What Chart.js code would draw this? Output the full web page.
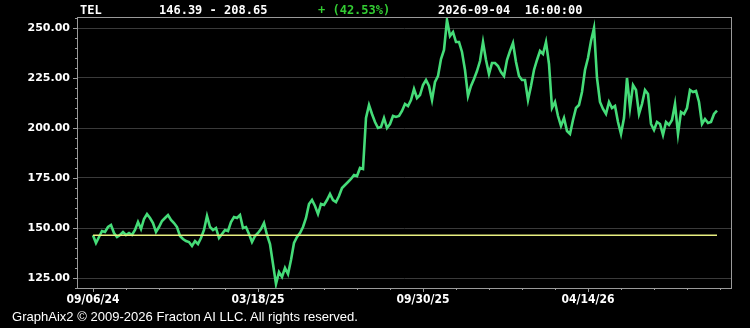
<!DOCTYPE html>
<html><head><meta charset="utf-8">
<script src="https://cdn.jsdelivr.net/npm/chart.js@4"></script>
<style>
html,body{margin:0;padding:0;background:#000;width:750px;height:328px;overflow:hidden}
#wrap{position:relative;width:750px;height:328px}
canvas{position:absolute;left:0;top:0}
.hdr{position:absolute;top:3px;font:bold 12px 'DejaVu Sans Mono',monospace;color:#fff;white-space:pre;line-height:14px}
#foot{position:absolute;left:12px;top:309px;font:13px 'Liberation Sans',Arial,sans-serif;color:#fff;white-space:pre;transform-origin:0 0;line-height:16px}
</style></head><body>
<div id="wrap">
<canvas id="c" width="750" height="328"></canvas>
<div class="hdr" id="hSym" style="left:80px"></div>
<div class="hdr" id="hRange" style="left:159px"></div>
<div class="hdr" id="hPct" style="left:318px;color:#33cc33"></div>
<div class="hdr" id="hDate" style="left:438px"></div>
<div id="foot">GraphAix2 © 2009-2026 Fracton AI LLC. All rights reserved.</div>
</div>
<script>
const symbol = "TEL";
const lastStamp = "2026-09-04  16:00:00";
const prices = [
146.39,142.5,145.5,148.5,148,150.5,151.5,147.5,145.5,146.5,
148,146.5,147.5,146.5,149,153,149.5,154.5,157,155,
152.5,148,150.5,153.5,155,156.5,154,152.5,150.5,146,
144.5,143.5,143,141,143.5,142,145,149,156,150.5,
149,150,145,147,149,148.5,153,155.5,155,156.5,
150,150.5,147,143,146,147.5,149.5,152.5,146.5,142,
132,122,128,125.5,130,127,134,142.5,145.5,147.5,
150.5,155,162,164,161,157,162,161.5,164,167,
164,163,166,170,171.5,173,174.5,176.5,176,180,
179.5,205,211.5,207,203,200,200.5,205,200,202,
206,205.5,206,208.5,212,211,214,219.5,215,216.5,
221.5,224,221,214,223,226,234.5,239,254,246,
248,243,243,238,229,216,221,224.5,228.5,233.5,
243,234,227,232.5,232.5,231,228,226,234,238.5,
242.5,233,226,224,224,214,221,229,234,238.5,
237,243,232,210,213,206,201,205,198.5,197,
204,210,211.5,218,229,235,243.5,250,225,213,
209.5,207,213,210,211,203,197,205,225,210,
221.5,219,207,212,219,217,202,199,203,202,
196.5,203,201.5,204,212,197,208,207,210,219,
218,218.5,213,202,204.5,202.5,203,207,208.65
];
const xLabels = ["09/06/24","03/18/25","09/30/25","04/14/26"];
const xLabelIdx = [0,55,110,165];
const xMinorStep = 11;
const yMajor = [125,150,175,200,225,250];
const yMinorStep = 5;
const yMin = 120, yMax = 255.5;

const first = prices[0], last = prices[prices.length-1];
const pct = (last-first)/first*100;
document.getElementById('hSym').textContent = symbol;
document.getElementById('hRange').textContent = first.toFixed(2) + " - " + last.toFixed(2);
document.getElementById('hPct').textContent = (pct>=0?"+":"-") + " (" + Math.abs(pct).toFixed(2) + "%)";
document.getElementById('hDate').textContent = lastStamp;

const xTicks = [];
for (let v = xLabelIdx[0]; v <= prices.length; v += xMinorStep) xTicks.push(v);
const yTicks = [];
for (let v = yMin; v <= yMax; v += yMinorStep) yTicks.push(v);

const tickPlugin = {
  id:'ticks',
  afterDraw(chart){
    const ctx = chart.ctx, a = chart.chartArea;
    const xs = chart.scales.x, ys = chart.scales.y;
    ctx.save();
    ctx.strokeStyle = '#9a9a9a';
    ctx.lineWidth = 1;
    ctx.strokeRect(a.left+0.5, a.top+0.5, a.right-a.left-1, a.bottom-a.top);
    ctx.beginPath();
    xTicks.forEach(v=>{
      const px = Math.round(xs.getPixelForValue(v))+0.5;
      const len = xLabelIdx.includes(v) ? 4 : 2;
      ctx.moveTo(px, a.bottom); ctx.lineTo(px, a.bottom+len);
    });
    yTicks.forEach(v=>{
      const py = Math.round(ys.getPixelForValue(v))+0.5;
      const len = yMajor.includes(v) ? 4 : 2;
      ctx.moveTo(a.left, py); ctx.lineTo(a.left-len, py);
    });
    ctx.stroke();
    ctx.restore();
  }
};

new Chart(document.getElementById('c'), {
  type:'line',
  data:{datasets:[
    {data:[{x:0,y:first},{x:prices.length-1,y:first}], borderColor:'#e8ee80', borderWidth:1.5, pointRadius:0},
    {data:prices.map((v,i)=>({x:i,y:v})), borderColor:'#45dc78', borderWidth:2.6, pointRadius:0, tension:0}
  ]},
  options:{
    responsive:false, animation:false, devicePixelRatio:1,
    layout:{padding:{left:0,top:17,right:18,bottom:0}},
    plugins:{legend:{display:false}, tooltip:{enabled:false}},
    scales:{
      x:{type:'linear', min:-16/3, max:213,
        afterFit(s){s.height=40;},
        afterBuildTicks(s){s.ticks = xTicks.map(v=>({value:v}));},
        grid:{display:false, drawTicks:false},
        border:{display:false},
        ticks:{autoSkip:false, maxRotation:0, padding:5, color:'#ffffff',
          font:{family:"'DejaVu Sans Condensed','DejaVu Sans',sans-serif", weight:'bold', size:12},
          callback(v){const k = xLabelIdx.indexOf(v); return k>=0 ? xLabels[k] : '';}}
      },
      y:{type:'linear', min:yMin, max:yMax,
        afterFit(s){s.width=77;},
        afterBuildTicks(s){s.ticks = yTicks.map(v=>({value:v}));},
        grid:{drawTicks:false, lineWidth:1,
          color(c){return c.tick && yMajor.includes(c.tick.value) ? '#3a3a3a' : 'rgba(0,0,0,0)';}},
        border:{display:false},
        ticks:{autoSkip:false, padding:7, color:'#ffffff',
          font:{family:"'DejaVu Sans',sans-serif", weight:'bold', size:11},
          callback(v){return yMajor.includes(v) ? v.toFixed(2) : '';}}
      }
    }
  },
  plugins:[tickPlugin]
});

const foot = document.getElementById('foot');
const fw = foot.getBoundingClientRect().width;
foot.style.transform = 'scaleX(' + (346/fw) + ')';
</script>
</body></html>
